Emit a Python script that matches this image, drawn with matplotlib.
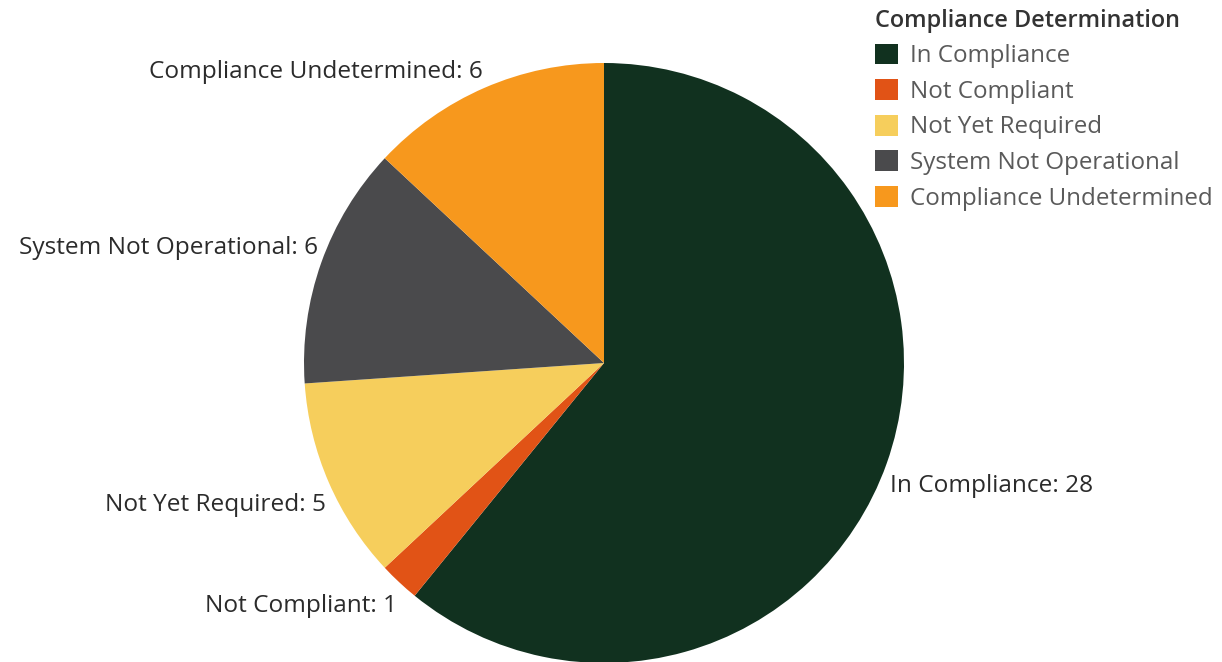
import matplotlib
matplotlib.use("Agg")
import matplotlib.pyplot as plt
from matplotlib.patches import Patch
import numpy as np

categories = ["In Compliance", "Not Compliant", "Not Yet Required",
              "System Not Operational", "Compliance Undetermined"]
counts = [28, 1, 5, 6, 6]
colors = ["#11311f", "#e15316", "#f6ce5c", "#4a4a4c", "#f7981d"]
legend_title = "Compliance Determination"

plt.rcParams["font.family"] = ["Open Sans", "DejaVu Sans"]

W, H = 1222, 662
fig = plt.figure(figsize=(W / 100, H / 100), dpi=100)
fig.patch.set_facecolor("white")

# square axes holding the pie (centre ~(604,363) px, radius 300 px)
cx, cy, r = 604, 363, 300
ax = fig.add_axes([(cx - r) / W, (H - cy - r) / H, 2 * r / W, 2 * r / H])
wedges, _ = ax.pie(counts, colors=colors, startangle=90, counterclock=False,
                   radius=1.0, wedgeprops=dict(linewidth=0))
ax.set_xlim(-1, 1)
ax.set_ylim(-1, 1)
ax.set_aspect("auto")
ax.axis("off")

# labels: anchored on the rim at each wedge's mid-angle, nudged by (right, down) pixels
offsets = [(3, 11), (-2, 12), (-3, 10), (-3, -3), (-2, -4)]
for w, cat, n, (dx, dy) in zip(wedges, categories, counts, offsets):
    ang = np.deg2rad((w.theta1 + w.theta2) / 2)
    x, y = np.cos(ang), np.sin(ang)
    ha = "left" if x > 0 else "right"
    va = "top" if y < 0 else "bottom"
    ax.annotate(f"{cat}: {n}", xy=(x, y), xytext=(dx * 0.72, -dy * 0.72),
                textcoords="offset points", ha=ha, va=va,
                fontsize=17.6, color="#2b2b2b", annotation_clip=False)

handles = [Patch(facecolor=c, edgecolor="none") for c in colors]
leg = fig.legend(handles, categories, title=legend_title,
                 loc="upper left", bbox_to_anchor=(871 / W, 1 - 5 / H),
                 frameon=False, fontsize=17.4, title_fontsize=16.9,
                 handlelength=0.95, handleheight=0.95, handletextpad=0.5,
                 labelspacing=0.45, borderaxespad=0, borderpad=0.15,
                 alignment="left")
leg.get_title().set_color("#333333")
leg.get_title().set_fontweight("semibold")
for t in leg.get_texts():
    t.set_color("#5a5a5a")

fig.savefig("out.png", dpi=100, facecolor="white")
